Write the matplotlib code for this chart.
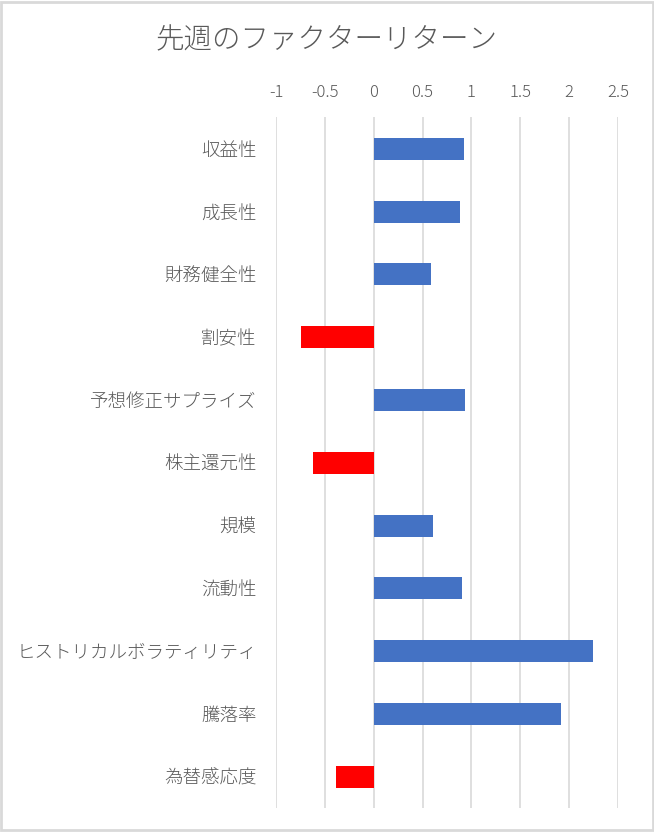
import numpy as np
import matplotlib.pyplot as plt
from matplotlib.patches import Rectangle

plt.rcParams['font.family'] = ['Noto Sans CJK JP', 'DejaVu Sans']
plt.rcParams['font.weight'] = 'light'

# factor names, top to bottom
factors = ['収益性', '成長性', '財務健全性', '割安性', '予想修正サプライズ', '株主還元性',
           '規模', '流動性', 'ヒストリカルボラティリティ', '騰落率', '為替感応度']
returns = [0.92, 0.88, 0.59, -0.74, 0.93, -0.62, 0.61, 0.90, 2.245, 1.92, -0.385]
xticks = [-1, -0.5, 0, 0.5, 1, 1.5, 2, 2.5]
xtick_labels = ['-1', '-0.5', '0', '0.5', '1', '1.5', '2', '2.5']

txt = '#595959'
fig = plt.figure(figsize=(6.54, 8.32), dpi=100)
ax = fig.add_axes([0.422, 0.0288, 0.523, 0.830])

y = np.arange(len(factors))
colors = ['#4472C4' if v >= 0 else '#FF0000' for v in returns]
ax.barh(y, returns, height=0.35, color=colors, zorder=3)

ax.set_xlim(-1, 2.5)
ax.set_ylim(len(factors) - 0.5, -0.5)
ax.set_xticks(xticks)
ax.set_xticklabels(xtick_labels)
ax.set_yticks(y)
ax.set_yticklabels(factors)
ax.xaxis.tick_top()
ax.tick_params(axis='x', length=0, pad=12, labelsize=12, colors=txt)
ax.tick_params(axis='y', length=0, pad=14, labelsize=13.3, colors=txt)
ax.grid(axis='x', color='#d9d9d9', linewidth=1.2, zorder=0)
for s in ax.spines.values():
    s.set_visible(False)

fig.text(0.5, 0.952, '先週のファクターリターン', ha='center', va='center',
         fontsize=20.5, color=txt)

fig.patches.append(Rectangle((0.002, 0.002), 0.996, 0.996, transform=fig.transFigure,
                             fill=False, edgecolor='#d9d9d9', linewidth=2))

plt.savefig('out.png', dpi=100)
